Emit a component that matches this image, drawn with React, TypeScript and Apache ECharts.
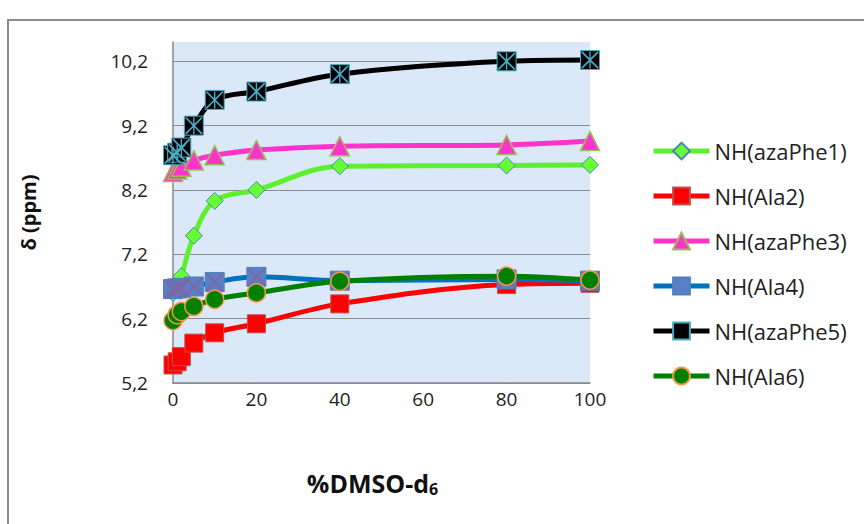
import React, { useEffect, useRef } from "react";
import * as echarts from "echarts";

const xValues = [0, 1, 2, 5, 10, 20, 40, 80, 100];
const seriesNames = ["NH(azaPhe1)", "NH(Ala2)", "NH(azaPhe3)", "NH(Ala4)", "NH(azaPhe5)", "NH(Ala6)"];
const azaPhe1 = [6.6, 6.7, 6.86, 7.49, 8.03, 8.2, 8.57, 8.58, 8.59];
const ala2 = [5.48, 5.53, 5.61, 5.82, 5.98, 6.12, 6.43, 6.73, 6.75];
const azaPhe3 = [8.48, 8.52, 8.56, 8.66, 8.74, 8.82, 8.88, 8.9, 8.96];
const ala4 = [6.66, 6.67, 6.68, 6.7, 6.77, 6.85, 6.79, 6.81, 6.79];
const azaPhe5 = [8.74, 8.78, 8.86, 9.2, 9.6, 9.73, 10.0, 10.2, 10.22];
const ala6 = [6.17, 6.26, 6.31, 6.39, 6.5, 6.6, 6.78, 6.86, 6.8];
const yTicks = [5.2, 6.2, 7.2, 8.2, 9.2, 10.2];
const xTicks = [0, 20, 40, 60, 80, 100];

const FONT = "'Open Sans', Lato, sans-serif";
const toPairs = (ys: number[]) => xValues.map((x, i) => [x, ys[i]]);

const X_PATH = "path://M0,0 L7,0 L50,43 L93,0 L100,0 L100,7 L57,50 L100,93 L100,100 L93,100 L50,57 L7,100 L0,100 L0,93 L43,50 L0,7 Z";
const STAR_PATH = X_PATH.replace("path://", "path://M46,0 L54,0 L54,100 L46,100 Z ");

export default function App() {
  const ref = useRef<HTMLDivElement>(null);
  useEffect(() => {
    if (!ref.current) return;
    const chart = echarts.init(ref.current, null, { renderer: "svg" });
    const base = (name: string, data: number[], color: string, symbol: string, size: number, fill: string, border: string, bw: number) => ({
      type: "line",
      name,
      data: toPairs(data),
      smooth: 0.35,
      symbol,
      symbolSize: size,
      showAllSymbol: true,
      lineStyle: { color, width: 5 },
      itemStyle: { color: fill, borderColor: border, borderWidth: bw },
      emphasis: { disabled: true },
    });
    const overlay = (name: string, data: number[], symbol: string, size: number, color: string) => ({
      type: "line",
      name,
      data: toPairs(data),
      smooth: 0.35,
      symbol,
      symbolSize: size,
      lineStyle: { width: 0, opacity: 0 },
      itemStyle: { color, borderWidth: 0 },
      silent: true,
      emphasis: { disabled: true },
    });
    chart.setOption({
      animation: false,
      backgroundColor: "#ffffff",
      grid: {
        left: 173,
        right: 274,
        top: 42,
        bottom: 141,
        show: true,
        backgroundColor: "#dae8f7",
        borderWidth: 0,
      },
      legend: {
        data: seriesNames,
        orient: "vertical",
        left: 646,
        top: 135,
        itemGap: 23,
        itemWidth: 56,
        itemHeight: 21,
        lineStyle: { width: 5 },
        textStyle: { fontFamily: FONT, fontSize: 22, lineHeight: 22, color: "#222" },
      },
      xAxis: {
        type: "value",
        min: 0,
        max: 100,
        interval: 20,
        name: "%DMSO-d{sub|6}",
        nameLocation: "middle",
        nameGap: 86,
        nameTextStyle: {
          fontFamily: FONT,
          fontSize: 25,
          fontWeight: "bold",
          color: "#111",
          padding: [0, 18, 0, 0],
          rich: {
            sub: { fontFamily: FONT, fontSize: 16, fontWeight: "bold", color: "#111", padding: [12, 0, 0, 0] },
          },
        },
        axisLine: { show: true, lineStyle: { color: "#8a8a8a", width: 1.5 } },
        axisTick: { show: false },
        splitLine: { show: false },
        axisLabel: {
          fontFamily: FONT,
          fontSize: 19,
          color: "#222",
          margin: 6,
          customValues: xTicks,
        },
      },
      yAxis: {
        type: "value",
        min: 5.2,
        max: 10.5,
        name: "δ (ppm)",
        nameLocation: "middle",
        nameGap: 135,
        nameRotate: 90,
        nameTextStyle: { fontFamily: FONT, fontSize: 20, fontWeight: "bold", color: "#111" },
        axisLine: { show: true, lineStyle: { color: "#8a8a8a", width: 1.5 } },
        axisTick: { show: false, customValues: yTicks },
        splitLine: { show: true, lineStyle: { color: "#8c8c8c", width: 1 } },
        axisLabel: {
          fontFamily: FONT,
          fontSize: 19,
          color: "#222",
          margin: 25,
          customValues: yTicks,
          formatter: (v: number) => v.toFixed(1).replace(".", ","),
        },
      },
      graphic: [
        {
          type: "rect",
          shape: { x: 8, y: 20, width: 900, height: 600 },
          style: { fill: "none", stroke: "#8a8a8a", lineWidth: 2 },
          silent: true,
          z: -10,
        },
      ],
      series: [
        base(seriesNames[0], azaPhe1, "#5ef02e", "diamond", 17, "#66ff33", "#4f81bd", 1),
        base(seriesNames[1], ala2, "#ff0000", "rect", 18, "#ff0000", "#c0504d", 1),
        base(seriesNames[2], azaPhe3, "#ff33cc", "triangle", 19, "#ff33cc", "#9bbb59", 1.5),
        base(seriesNames[3], ala4, "#0070c0", "rect", 19, "#5b7fc4", "#4f81bd", 1),
        overlay("ala4-x", ala4, X_PATH, 18, "#8064a2"),
        base(seriesNames[4], azaPhe5, "#000000", "rect", 19, "#000000", "#4bacc6", 1),
        overlay("azaPhe5-x", azaPhe5, STAR_PATH, 17, "#4bacc6"),
        base(seriesNames[5], ala6, "#008000", "circle", 18, "#008000", "#f79646", 1.5),
      ],
    });
    return () => chart.dispose();
  }, []);
  return (
    <div
      ref={ref}
      style={{ position: "fixed", left: 0, top: 0, width: 864, height: 524 }}
    />
  );
}
